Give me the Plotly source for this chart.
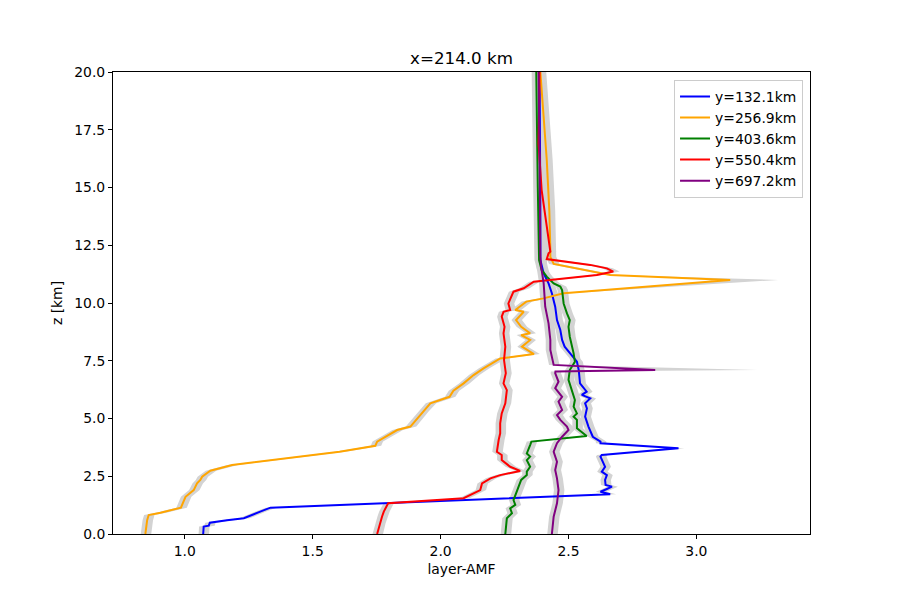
import plotly.graph_objects as go

# ---------------- data ----------------
labels = ["y=132.1km", "y=256.9km", "y=403.6km", "y=550.4km", "y=697.2km"]
colors = ["blue", "orange", "green", "red", "purple"]

blue_z = [0, 0.32, 0.36, 0.49, 0.6, 0.68, 0.97, 1.14, 1.72, 1.83, 1.95, 2.05, 2.12, 2.34, 2.55, 2.7, 2.91,
          3.35, 3.42, 3.56, 3.71, 3.93, 4.0, 4.21, 4.65, 5.08, 5.44, 5.66, 5.87, 6.02, 6.16, 6.52, 7.1, 7.46,
          7.82, 8.11, 8.4, 8.83, 9.26, 9.84, 10.42, 10.85, 11.28, 11.57, 11.86, 14.0, 17.0, 20.0]
blue_x = [1.072, 1.074, 1.094, 1.098, 1.165, 1.231, 1.295, 1.335, 2.663, 2.625, 2.65, 2.67, 2.645, 2.643,
          2.65, 2.63, 2.643, 2.625, 2.63, 2.78, 2.93, 2.625, 2.625, 2.595, 2.578, 2.565, 2.572, 2.565, 2.585,
          2.552, 2.571, 2.545, 2.54, 2.533, 2.505, 2.485, 2.475, 2.468, 2.455, 2.448, 2.435, 2.422, 2.403,
          2.396, 2.39, 2.39, 2.388, 2.387]

orange_z = [0.0, 0.6, 0.82, 0.92, 1.14, 1.4, 1.61, 1.9, 2.19, 2.34, 2.48, 2.74, 2.99, 3.56, 3.82, 4.0, 4.5,
            4.65, 4.94, 5.3, 5.66, 5.94, 6.2, 6.52, 6.88, 7.17, 7.6, 7.79, 8.11, 8.4, 8.61, 8.69, 8.97, 9.26,
            9.62, 9.7, 10.06, 10.2, 10.42, 11.0, 11.21, 11.69, 12.0, 12.3, 14.0, 16.2, 17.6, 20.0]
orange_x = [0.846, 0.853, 0.859, 0.905, 0.985, 0.995, 1.003, 1.035, 1.048, 1.061, 1.068, 1.10, 1.185, 1.605,
            1.745, 1.752, 1.83, 1.882, 1.905, 1.93, 1.96, 2.035, 2.05, 2.09, 2.129, 2.168, 2.233, 2.365, 2.318,
            2.35, 2.315, 2.35, 2.315, 2.295, 2.325, 2.292, 2.335, 2.402, 2.481, 3.132, 2.663, 2.442, 2.429,
            2.429, 2.425, 2.415, 2.405, 2.39]

green_z = [0, 0.68, 0.9, 1.11, 1.26, 1.47, 1.76, 2.05, 2.34, 2.55, 2.7, 2.91, 3.2, 3.35, 3.49, 3.85, 4.0,
           4.24, 4.36, 4.58, 4.94, 5.08, 5.22, 5.51, 5.8, 6.23, 6.67, 7.1, 7.46, 7.82, 8.54, 8.97, 9.26, 9.55,
           9.98, 10.56, 10.71, 10.85, 11.14, 11.43, 11.86, 15.0, 20.0]
green_x = [2.253, 2.259, 2.279, 2.272, 2.292, 2.285, 2.295, 2.305, 2.315, 2.337, 2.337, 2.35, 2.337, 2.35,
           2.337, 2.35, 2.355, 2.571, 2.559, 2.533, 2.533, 2.52, 2.533, 2.52, 2.525, 2.513, 2.5, 2.505,
           2.525, 2.52, 2.505, 2.5, 2.505, 2.494, 2.481, 2.475, 2.468, 2.442, 2.415, 2.395, 2.385, 2.38, 2.374]

red_z = [0, 0.46, 0.75, 0.97, 1.26, 1.33, 1.55, 1.76, 1.9, 2.19, 2.41, 2.55, 2.73, 2.91, 3.2, 3.42, 3.56,
         4.07, 4.36, 4.79, 5.22, 5.66, 5.94, 6.23, 6.52, 6.96, 7.53, 8.11, 8.69, 8.97, 9.41, 9.62, 9.7, 9.98,
         10.49, 10.64, 10.92, 11.07, 11.21, 11.36, 11.5, 11.65, 11.86, 11.9, 12.15, 12.22, 14.89, 16.9, 20.0]
red_x = [1.752, 1.762, 1.771, 1.778, 1.791, 1.795, 2.09, 2.129, 2.155, 2.162, 2.195, 2.233, 2.311, 2.272,
         2.239, 2.239, 2.22, 2.227, 2.233, 2.233, 2.239, 2.253, 2.255, 2.259, 2.246, 2.255, 2.248, 2.253,
         2.246, 2.25, 2.239, 2.246, 2.272, 2.265, 2.285, 2.325, 2.364, 2.495, 2.611, 2.675, 2.65, 2.585,
         2.442, 2.415, 2.422, 2.429, 2.395, 2.383, 2.387]

purple_z = [0, 0.75, 1.33, 1.9, 2.41, 2.77, 3.13, 3.56, 3.93, 4.21, 4.5, 4.65, 4.94, 5.15, 5.37, 5.73, 5.94,
            6.31, 6.59, 6.96, 7.03, 7.1, 7.32, 7.97, 8.4, 9.12, 9.84, 10.85, 11.57, 12.0, 16.2, 20.0]
purple_x = [2.435, 2.442, 2.455, 2.461, 2.455, 2.448, 2.455, 2.442, 2.455, 2.475, 2.5, 2.494, 2.468, 2.455,
            2.475, 2.461, 2.475, 2.448, 2.461, 2.448, 2.449, 2.839, 2.442, 2.429, 2.429, 2.422, 2.409, 2.403,
            2.393, 2.39, 2.387, 2.383]

# upper edge of the grey spread band at the spikes (series index, point index, value)
band_tips = {1: (39, 3.32), 3: (39, 2.70), 4: (21, 3.24)}

series_z = [blue_z, orange_z, green_z, red_z, purple_z]
series_x = [blue_x, orange_x, green_x, red_x, purple_x]

x_ticks = [1.0, 1.5, 2.0, 2.5, 3.0]
y_ticks = [0.0, 2.5, 5.0, 7.5, 10.0, 12.5, 15.0, 17.5, 20.0]

# ---------------- style ----------------
BAND_LO = 0.018   # half widths of the grey spread band (style)
BAND_HI = 0.023
FONT = "DejaVu Sans"

fig = go.Figure()

# grey spread bands first
for i, (zs, xs) in enumerate(zip(series_z, series_x)):
    lo = [v - BAND_LO for v in xs]
    hi = [v + BAND_HI for v in xs]
    if i in band_tips:
        k, tip = band_tips[i]
        hi[k] = tip
    fig.add_trace(go.Scatter(
        x=lo + hi[::-1], y=list(zs) + list(zs)[::-1],
        fill="toself", fillcolor="#d3d3d3", mode="lines",
        line=dict(width=0, color="#d3d3d3"), showlegend=False, hoverinfo="skip"))

# the profiles
for lab, col, zs, xs in zip(labels, colors, series_z, series_x):
    fig.add_trace(go.Scatter(x=xs, y=zs, mode="lines", name=lab,
                             line=dict(color=col, width=2)))

axis_common = dict(showgrid=False, zeroline=False, showline=True, mirror=True,
                   linecolor="black", linewidth=1, ticks="outside", ticklen=4,
                   tickwidth=1, tickcolor="black",
                   tickfont=dict(family=FONT, size=13.9, color="black"))

fig.update_xaxes(range=[0.7195, 3.444], tickvals=x_ticks,
                 ticktext=[f"{t:.1f}" for t in x_ticks],
                 title=dict(text="layer-AMF", font=dict(family=FONT, size=13.9, color="black"),
                            standoff=6),
                 **axis_common)
fig.update_yaxes(range=[0, 20], tickvals=y_ticks,
                 ticktext=[f"{t:.1f}" for t in y_ticks],
                 title=dict(text="z [km]", font=dict(family=FONT, size=13.9, color="black"),
                            standoff=8),
                 **axis_common)

fig.update_layout(
    width=900, height=600,
    margin=dict(l=112.5, r=90, t=72, b=66),
    paper_bgcolor="white", plot_bgcolor="white",
    font=dict(family=FONT, color="black"),
    title=dict(text="x=214.0 km", x=0.5, xref="paper", xanchor="center",
               y=1 - 58 / 600, yref="container", yanchor="middle",
               font=dict(family=FONT, size=16.7, color="black")),
    legend=dict(x=0.99, y=0.983, xanchor="right", yanchor="top",
                bgcolor="rgba(255,255,255,0.8)", bordercolor="#cccccc", borderwidth=1,
                font=dict(family=FONT, size=13.9, color="black"),
                itemwidth=30, tracegroupgap=0),
    showlegend=True,
)

fig.write_html("out.html", config={"displayModeBar": False},
               post_script="document.body.style.margin='0';")
